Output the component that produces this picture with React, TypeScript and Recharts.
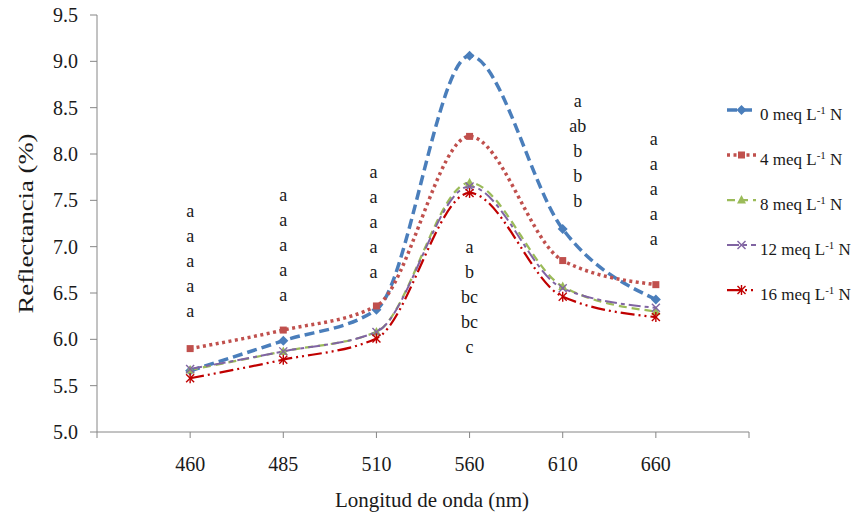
import React from 'react';
import { LineChart, Line, XAxis, YAxis, Label, LabelList } from 'recharts';

const FONT = "'Liberation Serif', 'Times New Roman', serif";
const AXIS_GRAY = '#868686';
const INK = '#1a1a1a';
const TEXT_CSS = `text, tspan { font-family: ${FONT} !important; }`;

// wavelengths (nm), one category per column
const wavelengths = ['460', '485', '510', '560', '610', '660'];

// reflectance (%) by N dose
const dose0 = [5.66, 5.985, 6.32, 9.06, 7.19, 6.43];
const dose4 = [5.9, 6.1, 6.36, 8.19, 6.85, 6.59];
const dose8 = [5.67, 5.87, 6.08, 7.69, 6.57, 6.3];
const dose12 = [5.68, 5.87, 6.08, 7.65, 6.55, 6.34];
const dose16 = [5.58, 5.78, 6.01, 7.58, 6.46, 6.24];

// mean separation letters per wavelength (0, 4, 8, 12, 16 meq)
const letters = [
  ['a', 'a', 'a', 'a', 'a'],
  ['a', 'a', 'a', 'a', 'a'],
  ['a', 'a', 'a', 'a', 'a'],
  ['a', 'b', 'bc', 'bc', 'c'],
  ['a', 'ab', 'b', 'b', 'b'],
  ['a', 'a', 'a', 'a', 'a'],
];
// reflectance level where each letter column starts
const letterTop = [7.38, 7.56, 7.81, 7.0, 8.575, 8.16];
const letterShift = [0, 0, -3, 0, 15, -2];

const yTicks = [5.0, 5.5, 6.0, 6.5, 7.0, 7.5, 8.0, 8.5, 9.0, 9.5];
const xTicks = [0, 1, 2, 3, 4, 5, 6, 7];

const rows = wavelengths.map((w, i) => ({
  pos: i + 1,
  w,
  d0: dose0[i],
  d4: dose4[i],
  d8: dose8[i],
  d12: dose12[i],
  d16: dose16[i],
  top: letterTop[i],
}));

type Shape = 'diamond' | 'square' | 'triangle' | 'cross' | 'star';

const series: {
  key: string; label: string; color: string; dash: string; width: number; shape: Shape;
}[] = [
  { key: 'd0', label: '0', color: '#4A7EBB', dash: '10 5', width: 3.5, shape: 'diamond' },
  { key: 'd4', label: '4', color: '#C0504D', dash: '3 3.5', width: 3.5, shape: 'square' },
  { key: 'd8', label: '8', color: '#9BBB59', dash: '8 5', width: 2.25, shape: 'triangle' },
  { key: 'd12', label: '12', color: '#8064A2', dash: '12 4 4 4', width: 2, shape: 'cross' },
  { key: 'd16', label: '16', color: '#C00000', dash: '14 4 2 4 2 4', width: 2.25, shape: 'star' },
];

function Marker({ shape, x, y, color }: { shape: Shape; x: number; y: number; color: string }) {
  switch (shape) {
    case 'diamond':
      return <polygon points={`${x},${y - 5} ${x + 5},${y} ${x},${y + 5} ${x - 5},${y}`} fill={color} />;
    case 'square':
      return <rect x={x - 3.5} y={y - 3.5} width={7} height={7} fill={color} />;
    case 'triangle':
      return <polygon points={`${x},${y - 5} ${x + 4.5},${y + 3.5} ${x - 4.5},${y + 3.5}`} fill={color} />;
    case 'cross':
      return (
        <g stroke={color} strokeWidth={1.4}>
          <line x1={x - 4} y1={y - 4} x2={x + 4} y2={y + 4} />
          <line x1={x - 4} y1={y + 4} x2={x + 4} y2={y - 4} />
        </g>
      );
    default:
      return (
        <g stroke={color} strokeWidth={1.4}>
          <line x1={x - 4} y1={y - 4} x2={x + 4} y2={y + 4} />
          <line x1={x - 4} y1={y + 4} x2={x + 4} y2={y - 4} />
          <line x1={x} y1={y - 5} x2={x} y2={y + 5} />
        </g>
      );
  }
}

function LetterColumn(props: any) {
  const idx = Number(props.value) - 1;
  const x = props.x ?? props.viewBox?.x;
  const y = props.y ?? props.viewBox?.y;
  if (x == null || y == null || !letters[idx]) return null;
  return (
    <g>
      {letters[idx].map((t, j) => (
        <text
          key={j}
          x={x + letterShift[idx]}
          y={y + j * 25}
          dy="0.33em"
          textAnchor="middle"
          fontFamily={FONT}
          fontSize={18}
          fill={INK}
        >
          {t}
        </text>
      ))}
    </g>
  );
}

function YTitle(props: any) {
  const vb = props.viewBox;
  const cx = vb.x + 25;
  const cy = vb.y + vb.height / 2;
  return (
    <text
      x={cx}
      y={cy}
      transform={`rotate(-90, ${cx}, ${cy})`}
      textAnchor="middle"
      dominantBaseline="central"
      fontFamily={FONT}
      fontSize={22}
      textLength={180}
      lengthAdjust="spacingAndGlyphs"
      fill={INK}
    >
      Reflectancia (%)
    </text>
  );
}

function XTitle(props: any) {
  const vb = props.viewBox;
  return (
    <text
      x={vb.x + vb.width / 2 + 9}
      y={vb.y + 68}
      textAnchor="middle"
      dominantBaseline="central"
      fontFamily={FONT}
      fontSize={21}
      fill={INK}
    >
      Longitud de onda (nm)
    </text>
  );
}

// legend: line samples in svg, labels as html text
function LegendBox() {
  return (
    <>
      <svg width={851} height={519} style={{ position: 'absolute', left: 0, top: 0, pointerEvents: 'none' }}>
        <style>{TEXT_CSS}</style>
        {series.map((s, i) => {
          const cy = 110 + i * 45;
          return (
            <g key={s.key}>
              <line x1={727} x2={756} y1={cy} y2={cy} stroke={s.color} strokeWidth={s.width} strokeDasharray={s.dash} />
              <Marker shape={s.shape} x={741.5} y={cy} color={s.color} />
            </g>
          );
        })}
      </svg>
      {series.map((s, i) => (
        <div
          key={s.key}
          style={{
            position: 'absolute', left: 760, top: 110 + i * 45 - 11, height: 22, lineHeight: '22px',
            fontFamily: FONT, fontSize: 17, color: INK, whiteSpace: 'nowrap',
          }}
        >
          {s.label} meq L<span style={{ fontSize: 11, verticalAlign: 6 }}>-1</span> N
        </div>
      ))}
    </>
  );
}

export default function App() {
  return (
    <div
      style={{
        position: 'absolute', left: 0, top: 0, width: 851, height: 519,
        background: '#fff', fontFamily: FONT,
      }}
    >
      <LineChart
        width={851}
        height={519}
        data={rows}
        margin={{ top: 15, right: 102, bottom: 0, left: 0 }}
        style={{ fontFamily: FONT }}
      >
        <style>{TEXT_CSS}</style>
        <XAxis
          dataKey="pos"
          type="number"
          domain={[0, 7]}
          ticks={xTicks}
          interval={0}
          height={87}
          tickSize={6}
          tickMargin={19}
          stroke={AXIS_GRAY}
          tickFormatter={(v: number) => wavelengths[v - 1] ?? ''}
          tick={{ fill: INK, fontSize: 20, fontFamily: FONT }}
        >
          <Label content={XTitle} />
        </XAxis>
        <YAxis
          domain={[5, 9.5]}
          ticks={yTicks}
          interval={0}
          width={97}
          tickSize={7}
          tickMargin={12}
          stroke={AXIS_GRAY}
          tickFormatter={(v: number) => v.toFixed(1)}
          tick={{ fill: INK, fontSize: 20, fontFamily: FONT }}
        >
          <Label content={YTitle} />
        </YAxis>
        {series.map((s) => (
          <Line
            key={s.key}
            dataKey={s.key}
            type="monotone"
            stroke={s.color}
            strokeWidth={s.width}
            strokeDasharray={s.dash}
            isAnimationActive={false}
            activeDot={false}
            dot={(p: any) => (
              <Marker key={`${s.key}-${p.index}`} shape={s.shape} x={p.cx} y={p.cy} color={s.color} />
            )}
          />
        ))}
        <Line
          dataKey="top"
          stroke="none"
          dot={false}
          activeDot={false}
          isAnimationActive={false}
          legendType="none"
        >
          <LabelList dataKey="pos" content={LetterColumn} />
        </Line>
      </LineChart>
      <LegendBox />
    </div>
  );
}
